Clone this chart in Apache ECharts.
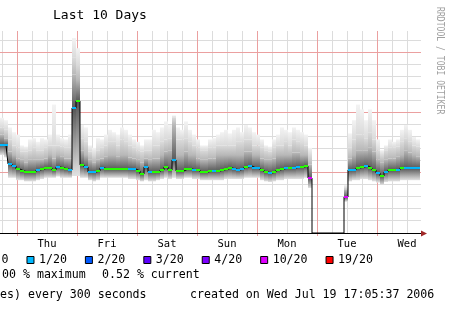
<!DOCTYPE html>
<html><head><meta charset="utf-8">
<script src="https://cdn.jsdelivr.net/npm/echarts@6/dist/echarts.min.js"></script>
<style>html,body{margin:0;padding:0;background:#fff}#c{width:450px;height:313px}</style>
</head><body><div id="c"></div>
<script>
// RRD consolidation: one column every 96 minutes, hours counted from Thu 00:00
const STEP_HOURS = 1.6;
const FIRST_HOUR = -6;
const dayNames = ['Thu','Fri','Sat','Sun','Mon','Tue','Wed'];
const X_MIN = -24, X_MAX = 161.6, Y_MAX = 168.33;
const MINOR_X_STEP = 6, MAJOR_X_STEP = 24;   // hours
const MINOR_Y_STEP = 10, MAJOR_Y_STEP = 50;  // ms
const lossLevels = [0,1,2,3,4,10,19];
const lossNames = ['0','1/20','2/20','3/20','4/20','10/20','19/20'];
const lossColors = ['#26ff00','#00b8ff','#0059ff','#5e00ff','#7e00ff','#dd00ff','#ff0000'];

// median RTT (ms)
const median = [73.3,73.3,57.5,55.8,53.3,51.7,50.8,50.8,50.8,52.5, 53.3,54.2,54.2,52.5,55,54.2,53.3,52.5,104.2,110,
 56.7,55,50.8,50.8,51.7,54.2,53.3,53.3,53.3,53.3, 53.3,53.3,53.3,53.3,51.7,49.2,55,50.8,50.8,50.8,
 52.5,55,52.5,60.8,51.7,51.7,53.3,53.3,52.5,52.5, 50.8,50.8,51.7,51.7,51.7,52.5,53.3,54.2,53.3,52.5,
 53.3,55,55.8,54.2,54.2,52.5,50.8,50,50.8,52.5, 53.3,54.2,54.2,54.2,55,55,55.8,45.8,0,0,
 0,0,0,0,0,0,30,52.5,52.5,54.2, 55,55.8,54.2,52.5,50,47.5,50.8,52.5,52.5,52.5,
 54.2,54.2,54.2,54.2,54.2];
// lost pings out of 20
const loss = [1,1,1,1,0,0,0,0,0,1, 0,0,0,0,1,0,0,1,1,0, 0,1,1,1,0,1,0,0,0,0, 0,0,1,1,0,0,1,1,0,0,
 0,0,0,1,0,0,0,0,1,0, 0,0,0,1,0,0,0,0,1,1, 1,0,1,1,1,0,0,1,0,0, 0,1,0,1,1,0,0,10,null,null,
 null,null,null,null,null,null,10,1,1,0, 0,1,0,0,1,0,1,0,0,1, 0,1,1,1,1];
// smoke: lowest ping, upper quantiles and highest ping (ms)
const smokeLow = [65,63,46,46,44,44,43,43,43,44, 45,46,46,46,47,46,46,46,47.5,47.5, 46,46,44,43,44,46,46,46,46,46,
 46,46,45,45,44,43,44,43,43,44, 45,46,45,46,45,45,46,46,45,45, 44,44,44,44,44,44,45,45,45,45,
 45,46,46,46,46,44,43,42.5,43,44, 44,45,45,45,45,45,46,37.5,null,null, null,null,null,null,null,null,26,43,44,44,
 45,45,44,43,42,40,42.5,43,43,43, 44,44,44,44,44];
const smokeQ1 = [82,79,68,65,62,61,59,61,61,61, 61,62,65,62,65,64,62,62,132,127.5, 69,65,61,59,61,62,64,65,65,64,
 65,65,63,62,61,59,62,61,62,62, 65,68,69,90,65,65,68,65,65,62, 61,61,62,62,65,65,65,65,65,65,
 65,68,68,65,65,62,61,61,62,65, 65,65,65,67,67,65,65,57,null,null, null,null,null,null,null,null,36,62,65,69,
 69,69,71,68,61,59,61,62,62,64, 65,69,67,65,64];
const smokeQ2 = [88,86,78,73,71,68,68,69,71,69, 69,71,73,73,73,72,71,71,146,140, 79,76,68,65,69,71,73,76,76,73,
 78,76,73,71,69,68,69,69,73,73, 76,78,79,96,78,78,79,76,73,71, 69,69,71,71,73,73,73,73,73,76,
 76,78,78,73,73,71,69,68,71,73, 73,76,73,78,76,75,73,65,null,null, null,null,null,null,null,null,37.5,71,78,82,
 82,79,84,78,69,65,69,71,71,72, 76,79,76,73,72];
const smokeHigh = [96,94,88,84,82,73,72,78,79,76, 79,78,82,107,82,79,78,82,162.5,154, 90,88,73,71,79,78,82,86,84,82,
 88,86,82,78,76,73,78,78,86,84, 88,93,90,98,88,86,93,86,82,78, 73,73,78,79,82,84,86,83,86,88,
 84,90,88,84,82,78,73,72,78,82, 88,86,84,88,86,84,82,71,null,null, null,null,null,null,null,null,40,83,94,107,
 103,94,103,94,78,69,73,78,76,78, 86,90,86,80,78];

const times = median.map((_, i) => +(FIRST_HOUR + STEP_HOURS * i).toFixed(2));

// grid positions, stepped from the axis minimum
function gridValues(min, max, step, majorStep, wantMajor) {
  const out = [];
  for (let v = min; v < max - 1e-6; v += step) {
    const isMajor = Math.abs(v / majorStep - Math.round(v / majorStep)) < 1e-9;
    if (isMajor === wantMajor) out.push(v);
  }
  return out;
}
const minorX = gridValues(X_MIN, X_MAX, MINOR_X_STEP, MAJOR_X_STEP, false);
const majorX = gridValues(X_MIN, X_MAX, MINOR_X_STEP, MAJOR_X_STEP, true);
const minorY = gridValues(MINOR_Y_STEP, Y_MAX, MINOR_Y_STEP, MAJOR_Y_STEP, false);
const majorY = gridValues(MINOR_Y_STEP, Y_MAX, MINOR_Y_STEP, MAJOR_Y_STEP, true);

const FONT = '"DejaVu Sans Mono", monospace';
const MAJOR_COLOR = '#eba0a0', MINOR_COLOR = '#dcdcdc';
const grad = (top, bottom) => new echarts.graphic.LinearGradient(0, 0, 0, 1, [{offset: 0, color: top}, {offset: 1, color: bottom}]);
const crisp = p => Math.round(p - 0.5) + 0.5;

// smoke bands drawn from the data through the axis scales
const bandStyles = [
  [1, 2, grad('#555555', '#e2e2e2')],   // lowest .. median
  [2, 3, grad('#b8b8b8', '#5a5a5a')],   // median .. q1
  [3, 4, grad('#dadada', '#b8b8b8')],   // q1 .. q2
  [4, 5, grad('#f3f3f3', '#dadada')]    // q2 .. highest
];
const smokeData = times.map((t, i) => [t, smokeLow[i], median[i], smokeQ1[i], smokeQ2[i], smokeHigh[i]]
  .map(v => v == null ? '-' : v));
function renderSmoke(params, api) {
  const t = api.value(0);
  if (isNaN(api.value(1))) return null;
  const x0 = api.coord([t - STEP_HOURS / 2, 0])[0];
  const x1 = api.coord([t + STEP_HOURS / 2, 0])[0];
  const children = bandStyles.map(([a, b, fill]) => {
    const ya = api.coord([t, api.value(a)])[1];
    const yb = api.coord([t, api.value(b)])[1];
    return {type: 'rect', shape: {x: x0, y: yb, width: x1 - x0, height: ya - yb}, style: {fill}};
  });
  return {type: 'group', children};
}
const vLine = (color, tick) => (params, api) => {
  const cs = params.coordSys;
  const x = crisp(api.coord([api.value(0), 0])[0]);
  return {type: 'line', shape: {x1: x, y1: cs.y, x2: x, y2: cs.y + cs.height + tick}, style: {stroke: color, lineWidth: 1}};
};
const hLine = color => (params, api) => {
  const cs = params.coordSys;
  const y = crisp(api.coord([0, api.value(1)])[1]);
  return {type: 'line', shape: {x1: cs.x, y1: y, x2: cs.x + cs.width, y2: y}, style: {stroke: color, lineWidth: 1}};
};
function renderArrow(params, api) {
  const cs = params.coordSys;
  const xe = cs.x + cs.width, yb = crisp(cs.y + cs.height);
  return {type: 'polygon', shape: {points: [[xe, yb - 3], [xe + 6, yb], [xe, yb + 3]]}, style: {fill: '#a02828'}};
}
const gridSeries = (name, data, renderItem, z) => ({type: 'custom', name, data, renderItem, silent: true, z,
  encode: {x: 0, y: 1}, clip: false});

const series = [
  gridSeries('minorX', minorX.map(h => [h, 0]), vLine(MINOR_COLOR, 0), 1),
  gridSeries('minorY', minorY.map(v => [0, v]), hLine(MINOR_COLOR), 1),
  gridSeries('majorX', majorX.map(h => [h, 0]), vLine(MAJOR_COLOR, 3), 2),
  gridSeries('majorY', majorY.map(v => [0, v]), hLine(MAJOR_COLOR), 2),
  gridSeries('arrow', [[X_MAX, 0]], renderArrow, 7),
  {type: 'custom', name: 'smoke', data: smokeData, renderItem: renderSmoke, silent: true, z: 3,
    encode: {x: 0, y: [1, 5]}},
  {type: 'line', name: 'median', step: 'middle', data: times.map((t, i) => [t, median[i]]), showSymbol: false,
    silent: true, z: 4, lineStyle: {color: '#000', width: 1}}
];
lossLevels.forEach((lv, j) => {
  const data = [];
  loss.forEach((l, i) => { if (l === lv) data.push([times[i], median[i]]); });
  series.push({type: 'scatter', name: lossNames[j], data, symbol: 'rect', symbolSize: [4, 2], z: 5, silent: true,
    itemStyle: {color: lossColors[j], opacity: 1}});
});

const option = {
  animation: false,
  backgroundColor: '#fff',
  grid: {left: -43, right: 29, top: 31, bottom: 80, containLabel: false, outerBoundsMode: 'none'},
  xAxis: [
    {type: 'value', position: 'bottom', min: X_MIN, max: X_MAX, interval: 12, z: 6,
      axisLine: {show: true, lineStyle: {color: '#000', width: 1}},
      axisTick: {show: false}, splitLine: {show: false},
      axisLabel: {show: true, margin: 6, color: '#000', fontFamily: FONT, fontSize: 10.5,
        formatter: v => { const h = ((v % 24) + 24) % 24; const d = (v - 12) / 24; return (h === 12 && dayNames[d]) ? dayNames[d] : ''; }}}
  ],
  yAxis: [
    {type: 'value', position: 'left', min: 0, max: Y_MAX, interval: MINOR_Y_STEP,
      axisLine: {show: false}, axisTick: {show: false}, axisLabel: {show: false}, splitLine: {show: false}}
  ],
  legend: {data: lossNames, left: -11, top: 254, padding: 0, itemGap: 18, itemWidth: 7, itemHeight: 7,
    icon: 'rect', selectedMode: false,
    itemStyle: {borderColor: '#000', borderWidth: 1},
    textStyle: {color: '#000', fontFamily: FONT, fontSize: 11.6}},
  graphic: [
    {type: 'text', x: 53, y: 16, style: {text: 'Last 10 Days', font: '13px ' + FONT, fill: '#000', verticalAlign: 'middle'}},
    {type: 'text', x: 440, y: 7, rotation: -Math.PI / 2, scaleX: 0.81,
      style: {text: 'RRDTOOL / TOBI OETIKER', font: '10px ' + FONT, fill: '#a0a0a0', align: 'left', verticalAlign: 'middle'}},
    {type: 'text', x: 2, y: 275, style: {text: '00 % maximum', font: '11.6px ' + FONT, fill: '#000', verticalAlign: 'middle'}},
    {type: 'text', x: 102, y: 275, style: {text: '0.52 % current', font: '11.6px ' + FONT, fill: '#000', verticalAlign: 'middle'}},
    {type: 'text', x: 0, y: 295, style: {text: 'es) every 300 seconds', font: '11.6px ' + FONT, fill: '#000', verticalAlign: 'middle'}},
    {type: 'text', x: 190, y: 295, style: {text: 'created on Wed Jul 19 17:05:37 2006', font: '11.6px ' + FONT, fill: '#000', verticalAlign: 'middle'}}
  ],
  series
};
const chart = echarts.init(document.getElementById('c'), null, {renderer: 'canvas'});
chart.setOption(option);
</script>
</body></html>
